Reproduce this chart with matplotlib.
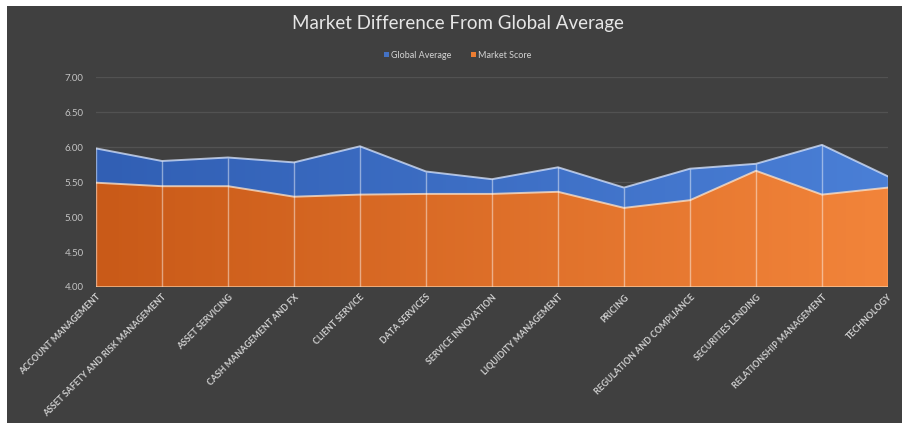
import numpy as np
import matplotlib
matplotlib.use("Agg")
import matplotlib.pyplot as plt
from matplotlib.patches import Rectangle
from matplotlib.colors import LinearSegmentedColormap

categories = [
    "ACCOUNT MANAGEMENT", "ASSET SAFETY AND RISK MANAGEMENT", "ASSET SERVICING",
    "CASH MANAGEMENT AND FX", "CLIENT SERVICE", "DATA SERVICES",
    "SERVICE INNOVATION", "LIQUIDITY MANAGEMENT", "PRICING",
    "REGULATION AND COMPLIANCE", "SECURITIES LENDING",
    "RELATIONSHIP MANAGEMENT", "TECHNOLOGY",
]
global_average = [5.98, 5.80, 5.85, 5.78, 6.01, 5.65, 5.54, 5.71, 5.42, 5.69, 5.76, 6.03, 5.58]
market_score = [5.49, 5.44, 5.44, 5.29, 5.32, 5.33, 5.33, 5.36, 5.13, 5.24, 5.66, 5.32, 5.42]
y_ticks = [4.0, 4.5, 5.0, 5.5, 6.0, 6.5, 7.0]

BG = "#404040"
TEXT = "#d4d4d4"
FONT = "Lato"

fig = plt.figure(figsize=(9.03, 4.23), dpi=100)
fig.patch.set_facecolor("white")
# dark chart panel
fig.patches.append(Rectangle((7 / 903, 0), 1, 1 - 6 / 423, transform=fig.transFigure,
                             facecolor=BG, edgecolor="none", zorder=-10))

ax = fig.add_axes([96 / 903, (423 - 287) / 423, 792 / 903, 210 / 423])
ax.set_zorder(1)
ax.set_facecolor(BG)
ax.patch.set_alpha(0)

x = np.arange(len(categories))
ax.set_xlim(0, len(categories) - 1)
ax.set_ylim(4.0, 7.0)


def gradient_fill(ax, x, y, c_left, c_right, z):
    poly = ax.fill_between(x, 4.0, y, facecolor="none", edgecolor="none", zorder=z)
    cmap = LinearSegmentedColormap.from_list("g", [c_left, c_right])
    grad = np.linspace(0, 1, 256).reshape(1, -1)
    im = ax.imshow(grad, cmap=cmap, aspect="auto", extent=[x[0], x[-1], 4.0, 7.0],
                   origin="lower", zorder=z, interpolation="bilinear")
    path = poly.get_paths()[0]
    im.set_clip_path(path, transform=ax.transData)
    return im


gradient_fill(ax, x, global_average, "#315fb4", "#4a7fd6", 2)
gradient_fill(ax, x, market_score, "#c95a18", "#f2843a", 3)

# outlines and drop lines
line_col = (1, 1, 1, 0.45)
ax.plot(x, global_average, color=(0.85, 0.9, 1, 0.75), lw=1.4, zorder=4)
ax.plot(x, market_score, color=(1, 0.9, 0.8, 0.75), lw=1.4, zorder=4)
ax.vlines(x, 4.0, global_average, colors=[line_col], lw=1.0, zorder=4)
ax.axhline(4.0, color=(1, 0.85, 0.7, 0.6), lw=1.4, zorder=4)

ax.set_yticks(y_ticks)
ax.set_yticklabels([f"{v:.2f}" for v in y_ticks])
ax.grid(axis="y", color="#525252", lw=0.9, zorder=1)
ax.set_axisbelow(True)
ax.set_xticks(x)
ax.set_xticklabels(categories, rotation=45, ha="right", va="top",
                   rotation_mode="anchor", fontsize=6.3, fontweight="bold",
                   color="#cfcfcf", family=FONT)
ax.tick_params(axis="x", length=0, pad=4)
ax.tick_params(axis="y", length=0, pad=9, labelsize=7, labelcolor="#c4c4c4")
for lbl in ax.get_yticklabels():
    lbl.set_family(FONT)
for s in ax.spines.values():
    s.set_visible(False)

fig.text(458 / 903, 1 - 23 / 423, "Market Difference From Global Average",
         ha="center", va="center", fontsize=13.5, color="#e6e6e6", family=FONT)

# legend
ly = 1 - 55 / 423
fig.patches.append(Rectangle((384 / 903, ly - 2.5 / 423), 5 / 903, 5 / 423, transform=fig.transFigure,
                             facecolor="#4472c4", edgecolor="none", zorder=5))
fig.text(391 / 903, ly, "Global Average", ha="left", va="center", fontsize=6.5,
         color=TEXT, family=FONT)
fig.patches.append(Rectangle((471 / 903, ly - 2.5 / 423), 5 / 903, 5 / 423, transform=fig.transFigure,
                             facecolor="#ed7d31", edgecolor="none", zorder=5))
fig.text(478 / 903, ly, "Market Score", ha="left", va="center", fontsize=6.5,
         color=TEXT, family=FONT)

fig.savefig("out.png", dpi=100, facecolor=fig.get_facecolor())
